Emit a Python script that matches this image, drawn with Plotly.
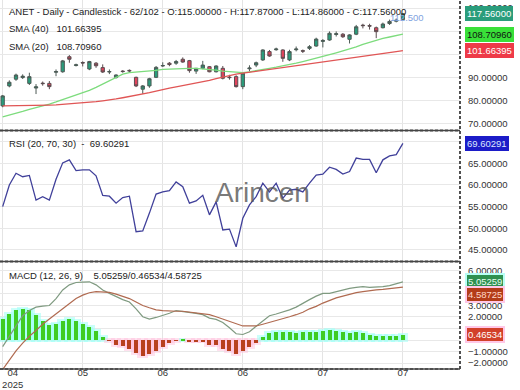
import plotly.graph_objects as go
from plotly.subplots import make_subplots
import pandas as pd

# ---------------- data ----------------
holidays = ["2025-05-26", "2025-06-19", "2025-07-04"]
dates = [d.strftime("%Y-%m-%d") for d in pd.bdate_range("2025-04-28", "2025-07-24")
         if d.strftime("%Y-%m-%d") not in holidays]

opens = [77.8, 86.4, 89.3, 90.0, 87.5, 85.5, 87.6, 87.5, 92.3, 92.5,
         99.0, 95.2, 96.5, 93.7, 96.2, 94.3, 92.4, 90.0, 92.8, 93.1,
         90.1, 85.0, 86.4, 90.1, 95.0, 96.2, 96.2, 97.9, 97.3, 92.8,
         94.0, 94.7, 92.5, 94.0, 90.2, 90.4, 86.1, 93.8, 95.4, 97.6,
         101.2, 102.0, 101.9, 97.6, 102.0, 101.6, 102.6, 103.6, 105.6, 106.2,
         108.6, 108.7, 106.5, 108.7, 112.6, 112.4, 111.5, 111.5, 113.3, 114.3,
         115.0]
highs = [82.5, 88.8, 91.7, 91.4, 92.1, 87.2, 88.3, 88.5, 93.5, 97.6,
         99.7, 96.0, 97.0, 97.2, 96.7, 95.7, 93.5, 91.4, 93.2, 93.5,
         90.4, 86.8, 89.9, 95.0, 96.6, 96.7, 97.6, 98.7, 97.6, 94.0,
         97.2, 95.0, 95.3, 95.0, 91.2, 91.0, 92.3, 95.3, 96.9, 102.2,
         101.9, 102.9, 102.2, 102.0, 103.4, 102.1, 104.0, 107.2, 106.6, 109.9,
         109.9, 109.2, 108.7, 112.7, 113.2, 113.2, 112.0, 113.7, 115.0, 115.5,
         117.87]
lows = [77.2, 85.8, 88.6, 89.4, 86.8, 82.9, 86.5, 85.0, 90.6, 92.1,
        96.4, 94.8, 94.8, 93.2, 94.2, 92.0, 91.5, 89.6, 92.1, 92.0,
        85.9, 83.0, 85.6, 89.8, 94.6, 94.9, 95.5, 96.4, 92.1, 91.6,
        93.6, 92.3, 92.2, 89.2, 89.1, 85.7, 85.0, 92.7, 94.5, 97.2,
        99.0, 101.6, 96.8, 97.1, 101.3, 100.6, 101.9, 103.3, 103.0, 105.9,
        107.7, 107.1, 104.7, 108.3, 111.2, 110.7, 107.0, 111.2, 112.7, 113.8,
        114.86]
closes = [82.1, 88.0, 91.1, 90.6, 90.4, 86.0, 87.4, 86.1, 92.6, 97.2,
          97.9, 95.5, 96.3, 96.9, 95.1, 92.4, 92.6, 91.1, 92.6, 92.9,
          86.4, 86.4, 89.5, 94.4, 95.2, 95.6, 96.9, 96.7, 93.0, 94.0,
          95.4, 92.5, 95.0, 89.7, 90.0, 86.1, 91.9, 94.1, 96.4, 101.9,
          99.3, 102.3, 98.3, 101.2, 102.3, 101.4, 103.3, 106.6, 106.0, 109.1,
          108.9, 107.6, 108.4, 111.9, 112.4, 112.2, 109.8, 113.1, 114.2, 114.7,
          117.56]

sma20 = [73.1, 73.8, 74.6, 75.4, 76.3, 77.0, 77.8, 78.6, 79.5, 80.5,
         81.5, 82.3, 83.2, 84.5, 85.8, 87.2, 88.7, 90.2, 91.5, 92.1,
         92.3, 92.6, 92.8, 93.1, 93.5, 93.7, 93.8, 94.0, 94.0, 94.0,
         93.8, 93.6, 93.2, 92.8, 92.5, 92.2, 92.1, 92.5, 92.9, 93.3,
         94.0, 94.5, 95.0, 95.6, 96.2, 96.9, 97.6, 98.3, 99.0, 99.9,
         100.7, 101.5, 102.2, 103.2, 104.3, 105.2, 106.2, 106.9, 107.5, 108.2,
         108.7096]
sma40 = [77.8, 77.8, 77.8, 77.8, 77.8, 77.9, 78.0, 78.1, 78.2, 78.4,
         78.6, 78.8, 78.9, 79.2, 79.6, 80.0, 80.3, 80.8, 81.3, 81.8,
         82.2, 82.8, 83.5, 84.2, 85.0, 85.5, 86.0, 86.5, 87.0, 87.5,
         88.2, 88.8, 89.6, 90.3, 90.9, 91.5, 91.9, 92.3, 92.7, 93.0,
         93.4, 93.8, 94.2, 94.6, 95.0, 95.4, 95.8, 96.1, 96.5, 96.9,
         97.3, 97.7, 98.1, 98.5, 99.0, 99.5, 100.0, 100.4, 100.8, 101.2,
         101.66395]

rsi = [55.0, 60.0, 62.7, 61.9, 62.2, 56.5, 57.3, 56.5, 61.3, 65.1,
       65.8, 63.3, 63.5, 63.5, 62.1, 57.6, 57.4, 55.8, 57.1, 57.4,
       49.2, 49.4, 53.5, 57.9, 58.4, 58.7, 60.7, 59.6, 55.8, 56.3,
       57.6, 53.1, 56.1, 49.6, 49.8, 45.7, 52.3, 55.4, 57.3, 60.4,
       58.4, 60.4, 56.9, 58.8, 59.0, 58.4, 60.4, 62.3, 62.5, 64.1,
       63.6, 62.5, 63.1, 66.2, 65.9, 65.9, 62.8, 65.8, 66.7, 67.0,
       69.60291]

macd = [-0.57, 0.33, 1.22, 2.11, 2.56, 2.86, 2.95, 3.00, 3.60, 4.35,
        4.79, 5.00, 5.03, 5.06, 4.79, 4.35, 4.05, 3.75, 3.51, 3.30,
        2.71, 2.02, 1.82, 1.96, 2.11, 2.32, 2.56, 2.50, 2.41, 2.32,
        2.20, 1.90, 1.79, 1.52, 1.07, 0.54, 0.48, 0.71, 1.19, 1.61,
        2.11, 2.26, 2.41, 2.62, 2.86, 3.21, 3.51, 3.81, 4.05, 4.05,
        4.20, 4.35, 4.49, 4.58, 4.64, 4.58, 4.58, 4.64, 4.73, 4.88,
        5.05259]
signal = [-2.56, -1.76, -0.95, -0.27, 0.33, 0.83, 1.37, 1.82, 2.26, 2.71,
          3.21, 3.60, 3.90, 4.11, 4.20, 4.20, 4.14, 3.99, 3.81, 3.60,
          3.30, 3.00, 2.80, 2.62, 2.56, 2.50, 2.50, 2.50, 2.41, 2.32,
          2.26, 2.20, 2.02, 1.82, 1.61, 1.37, 1.22, 1.22, 1.22, 1.37,
          1.52, 1.67, 1.82, 2.02, 2.20, 2.41, 2.71, 2.92, 3.21, 3.45,
          3.66, 3.81, 3.99, 4.11, 4.20, 4.29, 4.35, 4.40, 4.46, 4.52,
          4.58725]
hist = [1.82, 2.26, 2.62, 2.71, 2.62, 2.20, 1.67, 1.28, 1.43, 1.67,
        1.79, 1.67, 1.43, 1.16, 0.77, 0.24, -0.06, -0.40, -0.55, -0.75,
        -1.13, -1.37, -1.22, -0.92, -0.62, -0.30, -0.05, 0.03, -0.10, -0.10,
        -0.12, -0.40, -0.45, -0.75, -0.92, -1.22, -0.98, -0.62, -0.25, 0.24,
        0.60, 0.70, 0.68, 0.68, 0.62, 0.68, 0.68, 0.74, 0.77, 0.83,
        0.77, 0.68, 0.62, 0.68, 0.60, 0.42, 0.33, 0.36, 0.36, 0.39,
        0.46534]

h_line_green = 120.3
h_line_red = 112.5
rsi_level = 70

month_labels = ["04<br>2025", "05", "06", "06", "07", "07"]
label_bars = [1.5, 12, 24, 36, 48, 60]
grid_bars = [0, 12, 24, 36, 48, 60]

header = ("ANET - Daily - Candlestick - 62/102 - O:115.00000 - H:117.87000 - "
          "L:114.86000 - C:117.56000")
sma40_text = "SMA (40)   101.66395"
sma20_text = "SMA (20)   108.70960"
rsi_text = "RSI (20, 70, 30)  -  69.60291"
macd_text = "MACD (12, 26, 9)    5.05259/0.46534/4.58725"

# ---------------- figure ----------------
FONT = "Liberation Sans, Arial, sans-serif"
x = list(range(len(dates)))

fig = make_subplots(rows=3, cols=1, shared_xaxes=True, vertical_spacing=0)

fig.add_trace(go.Candlestick(
    x=x, open=opens, high=highs, low=lows, close=closes,
    increasing=dict(fillcolor="#2a9d7c", line=dict(color="#4d5a55", width=1)),
    decreasing=dict(fillcolor="#e0445c", line=dict(color="#5a4d50", width=1)),
    whiskerwidth=0, hoverinfo="skip", showlegend=False), row=1, col=1)
fig.add_trace(go.Scatter(x=x, y=sma20, mode="lines",
                         line=dict(color="#7ddc7d", width=1.3),
                         showlegend=False, hoverinfo="skip"), row=1, col=1)
fig.add_trace(go.Scatter(x=x, y=sma40, mode="lines",
                         line=dict(color="#e05555", width=1.3),
                         showlegend=False, hoverinfo="skip"), row=1, col=1)

fig.add_trace(go.Scatter(x=x, y=rsi, mode="lines",
                         line=dict(color="#40409a", width=1.3),
                         showlegend=False, hoverinfo="skip"), row=2, col=1)

glow = ["rgba(160,255,245,0.55)" if v >= 0 else "rgba(255,190,220,0.45)" for v in hist]
fig.add_trace(go.Bar(x=x, y=hist, width=1.0, marker=dict(color=glow,
                     line=dict(color=glow, width=4)),
                     showlegend=False, hoverinfo="skip"), row=3, col=1)
cols = ["#3fcc22" if v >= 0 else "#b8401e" for v in hist]
fig.add_trace(go.Bar(x=x, y=hist, width=0.6, marker=dict(color=cols, line=dict(width=0)),
                     showlegend=False, hoverinfo="skip"), row=3, col=1)
fig.add_trace(go.Scatter(x=x, y=macd, mode="lines",
                         line=dict(color="#7f9a80", width=1.2),
                         showlegend=False, hoverinfo="skip"), row=3, col=1)
fig.add_trace(go.Scatter(x=x, y=signal, mode="lines",
                         line=dict(color="#b06a50", width=1.2),
                         showlegend=False, hoverinfo="skip"), row=3, col=1)

# horizontal level lines
fig.add_hline(y=h_line_green, line=dict(color="#77dd77", width=1.5), row=1, col=1)
fig.add_hline(y=h_line_red, line=dict(color="#dd4a4a", width=1.2), row=1, col=1)
fig.add_hline(y=rsi_level, line=dict(color="#f3c98a", width=2), row=2, col=1)
dash = "3px,2px"
for v in [closes[-1], sma20[-1], sma40[-1]]:
    fig.add_hline(y=v, line=dict(color="#222", width=1.2, dash=dash), row=1, col=1)
fig.add_hline(y=rsi[-1], line=dict(color="#222", width=1.2, dash=dash), row=2, col=1)
for v in [macd[-1], signal[-1], hist[-1]]:
    fig.add_hline(y=v, line=dict(color="#222", width=1.2, dash=dash), row=3, col=1)

# axes
xr = [-0.4, 68.56]
for r in (1, 2, 3):
    fig.update_xaxes(range=xr, row=r, col=1, showgrid=False, zeroline=False,
                     showticklabels=(r == 3), ticks="", automargin=False,
                     minor=dict(tickmode="array", tickvals=grid_bars, showgrid=True,
                                gridcolor="#e4e4e4", gridwidth=1, ticks=""),
                     rangeslider=dict(visible=False))
fig.update_xaxes(tickmode="array", tickvals=label_bars, ticktext=month_labels,
                 tickfont=dict(family=FONT, size=9.5, color="#333"),
                 ticklabelstandoff=-4, row=3, col=1)

yfont = dict(family=FONT, size=9.5, color="#333")
fig.update_yaxes(side="right", range=[67.4, 123.45], tickvals=[70, 80, 90, 100, 110, 120],
                 domain=[0.6477, 1.0], row=1, col=1)
fig.update_yaxes(side="right", range=[42.44, 72.46], tickvals=[45, 50, 55, 60, 65, 70],
                 domain=[0.2927, 0.6450], row=2, col=1)
fig.update_yaxes(side="right", range=[-2.52, 6.78], tickvals=[-2, -1, 0, 1, 2, 3, 4, 5, 6],
                 domain=[0.0, 0.2900], row=3, col=1)
fig.update_yaxes(tickformat=".5f", tickfont=yfont, showgrid=True, gridcolor="#e8e8e8",
                 zeroline=False, ticks="", ticklabelstandoff=7, automargin=False)

shapes = []
for yy in [0.6463, 0.2913, 0.0]:
    shapes.append(dict(type="line", xref="paper", yref="paper", x0=0, x1=1, y0=yy, y1=yy,
                       line=dict(color="#444", width=1.5)))
shapes.append(dict(type="line", xref="paper", yref="paper", x0=1, x1=1, y0=0, y1=1,
                   line=dict(color="#444", width=1.5)))

ann = []
def txt(t, yp, size=9.5):
    ann.append(dict(text=t, xref="paper", yref="paper", x=0.016, y=yp, xanchor="left",
                    yanchor="middle", showarrow=False,
                    font=dict(family=FONT, size=size, color="#222")))
txt(header, 1 - 12 / 369)
txt(sma40_text, 1 - 29 / 369)
txt(sma20_text, 1 - 46 / 369)
txt(rsi_text, 1 - 143 / 369)
txt(macd_text, 1 - 275 / 369)

def box(v, yref, bg, fc, border=None, yshift=0):
    ann.append(dict(text=f"{v:.5f}", xref="paper", yref=yref, x=1, y=v, xanchor="left",
                    yanchor="middle", xshift=5, yshift=yshift, showarrow=False,
                    bgcolor=bg, bordercolor=border or bg, borderwidth=1 if border is None else 2,
                    borderpad=1, font=dict(family=FONT, size=9.5, color=fc)))
box(closes[-1], "y", "#2a9d7c", "#ffffff")
box(sma20[-1], "y", "#39e039", "#111111")
box(sma40[-1], "y", "#ee3a48", "#ffffff")
box(rsi[-1], "y2", "#1c1cc8", "#dde8ff")
box(macd[-1], "y3", "#2e9050", "#e8fff0", border="#b8fff5")
box(signal[-1], "y3", "#b33c18", "#ffd8c8", border="#ffc8e8", yshift=-7)
box(hist[-1], "y3", "#d2402a", "#ffffff", border="#ffc8e8")

ann.append(dict(text=f"{h_line_red:.3f}", xref="x", yref="y", x=57.8, y=h_line_red,
                xanchor="left", yanchor="bottom", showarrow=False,
                font=dict(family=FONT, size=9.5, color="#7fa3e0")))
ann.append(dict(text="Arincen", xref="paper", yref="paper", x=0.57, y=0.477,
                xanchor="center", yanchor="middle", showarrow=False,
                font=dict(family=FONT, size=28, color="rgba(85,85,85,0.8)")))

fig.update_layout(width=520, height=390, margin=dict(l=0, r=60, t=0, b=21),
                  paper_bgcolor="white", plot_bgcolor="white", bargap=0, barmode="overlay",
                  shapes=shapes, annotations=ann, showlegend=False,
                  font=dict(family=FONT))
fig.write_html("out.html", config={"displayModeBar": False},
               post_script="document.body.style.margin='0';")
